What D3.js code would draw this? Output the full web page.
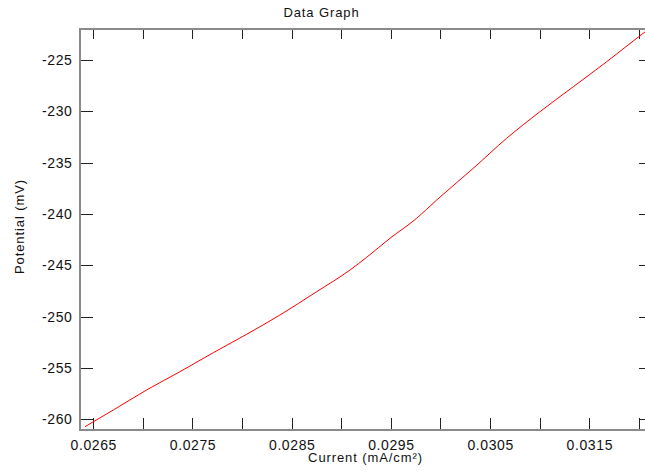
<!DOCTYPE html>
<html>
<head>
<meta charset="utf-8">
<script src="https://cdn.jsdelivr.net/npm/d3@7"></script>
<style>
  html, body { margin: 0; padding: 0; background: #fff; }
  svg { display: block; }
  text { font-family: "Liberation Sans", Arial, sans-serif; fill: #111; }
</style>
</head>
<body>
<svg id="chart" width="645" height="472"></svg>
<script>
// Polarization scan: current density vs potential
const current = [0.026416, 0.026702, 0.027038, 0.027374, 0.027710, 0.028046, 0.028382,
                 0.028752, 0.029088, 0.029256, 0.029491, 0.029760, 0.029962, 0.030330,
                 0.030667, 0.031003, 0.031339, 0.031675, 0.031943, 0.032110];
const potential = [-260.71, -259.08, -257.13, -255.35, -253.50, -251.71, -249.83,
                   -247.56, -245.45, -244.21, -242.36, -240.41, -238.63, -235.55,
                   -232.62, -230.03, -227.60, -225.17, -223.15, -221.90];

const xTickValues = [0.0265, 0.0270, 0.0275, 0.0280, 0.0285, 0.0290, 0.0295,
                     0.0300, 0.0305, 0.0310, 0.0315, 0.0320];
const xTickLabels = ["0.0265", "", "0.0275", "", "0.0285", "", "0.0295",
                     "", "0.0305", "", "0.0315", ""];
const yTickValues = [-225, -230, -235, -240, -245, -250, -255, -260];
const yTickLabels = ["-225", "-230", "-235", "-240", "-245", "-250", "-255", "-260"];

const xDomain = [0.026366, 0.032122];
const yDomain = [-261.03, -221.98];

const plot = { left: 80, right: 651, top: 29, bottom: 430 };

const svg = d3.select("#chart");

const x = d3.scaleLinear().domain(xDomain).range([plot.left, plot.right]);
const y = d3.scaleLinear().domain(yDomain).range([plot.bottom, plot.top]);

// tick marks point into the plot on all four sides
const xLabelFor = d => xTickLabels[xTickValues.indexOf(d)];
const yLabelFor = d => yTickLabels[yTickValues.indexOf(d)];

const bottomAxis = svg.append("g")
  .attr("transform", `translate(0,${plot.bottom})`)
  .call(d3.axisBottom(x).tickValues(xTickValues).tickSize(-12).tickPadding(0)
        .tickFormat(xLabelFor));
const topAxis = svg.append("g")
  .attr("transform", `translate(0,${plot.top})`)
  .call(d3.axisTop(x).tickValues(xTickValues).tickSize(-10).tickFormat(""));
const leftAxis = svg.append("g")
  .attr("transform", `translate(${plot.left},0)`)
  .call(d3.axisLeft(y).tickValues(yTickValues).tickSize(-13).tickPadding(0)
        .tickFormat(yLabelFor));
const rightAxis = svg.append("g")
  .attr("transform", `translate(${plot.right},0)`)
  .call(d3.axisRight(y).tickValues(yTickValues).tickSize(-12).tickFormat(""));

[bottomAxis, topAxis, leftAxis, rightAxis].forEach(g => {
  g.select(".domain").remove();
  g.selectAll(".tick line").attr("stroke", "#222").attr("stroke-width", 1)
    .attr("shape-rendering", "crispEdges");
});

bottomAxis.selectAll(".tick text")
  .attr("y", 20).attr("dy", null)
  .style("font-size", "14px").style("letter-spacing", "0.6px")
  .attr("fill", "#111");
leftAxis.selectAll(".tick text")
  .attr("x", -7.5).attr("dy", "4.5")
  .style("font-size", "14px").style("letter-spacing", "0.6px")
  .attr("fill", "#111");

// plot frame
svg.append("rect")
  .attr("x", plot.left).attr("y", plot.top)
  .attr("width", plot.right - plot.left).attr("height", plot.bottom - plot.top)
  .attr("fill", "none").attr("stroke", "#8a8a8a").attr("stroke-width", 2);

// data curve
svg.append("clipPath").attr("id", "plot-clip")
  .append("rect")
  .attr("x", plot.left).attr("y", plot.top)
  .attr("width", plot.right - plot.left).attr("height", plot.bottom - plot.top);

const line = d3.line().curve(d3.curveMonotoneX).x(d => x(d[0])).y(d => y(d[1]));
svg.append("path")
  .datum(d3.zip(current, potential))
  .attr("clip-path", "url(#plot-clip)")
  .attr("d", line)
  .attr("fill", "none")
  .attr("stroke", "#ff0000")
  .attr("stroke-width", 1);

// titles
svg.append("text")
  .attr("x", 321.5).attr("y", 17)
  .attr("text-anchor", "middle")
  .style("font-size", "13px").style("letter-spacing", "0.9px")
  .text("Data Graph");

svg.append("text")
  .attr("x", (plot.left + plot.right) / 2).attr("y", 461.5)
  .attr("text-anchor", "middle")
  .style("font-size", "13px").style("letter-spacing", "0.9px")
  .text("Current (mA/cm²)");

svg.append("text")
  .attr("transform", `translate(23.5,${(plot.top + plot.bottom) / 2 - 3}) rotate(-90)`)
  .attr("text-anchor", "middle")
  .style("font-size", "13px").style("letter-spacing", "0.9px")
  .text("Potential (mV)");
</script>
</body>
</html>
